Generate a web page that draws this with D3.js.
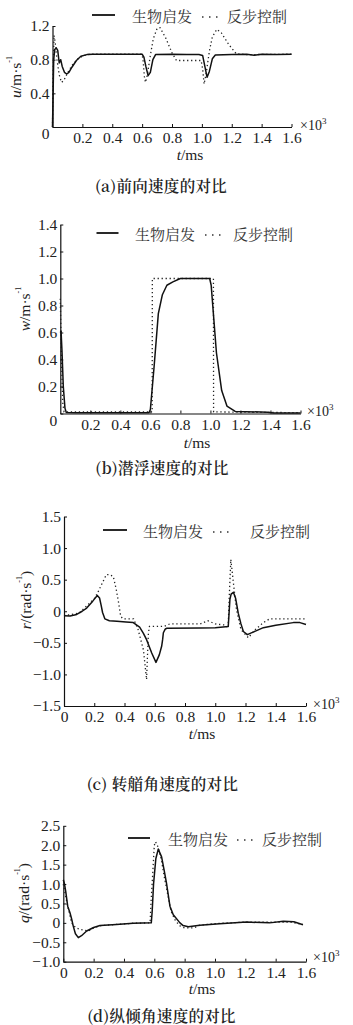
<!DOCTYPE html>
<html><head><meta charset="utf-8">
<script src="https://cdn.jsdelivr.net/npm/d3@7"></script>
<style>body{margin:0;background:#fff}svg{display:block}
.sf{font-family:"Liberation Serif","Times New Roman",serif}
.cj{font-family:"Noto Serif CJK SC","Noto Sans CJK SC",serif}
</style>
</head><body><svg id="c" width="353" height="1025"></svg>
<script>
// ---------- DATA ----------
const legendNames = ["生物启发", "反步控制"];
const captions = ["(a)前向速度的对比", "(b)潜浮速度的对比", "(c) 转艏角速度的对比", "(d)纵倾角速度的对比"];
const xTicks = [0, 0.2, 0.4, 0.6, 0.8, 1.0, 1.2, 1.4, 1.6];
const uTicks = [0, 0.4, 0.8, 1.2];
const wTicks = [0, 0.2, 0.4, 0.6, 0.8, 1.0, 1.2, 1.4];
const rTicks = [-1.5, -1.0, -0.5, 0, 0.5, 1.0, 1.5];
const qTicks = [-1.0, -0.5, 0, 0.5, 1.0, 1.5, 2.0, 2.5];

const uSolid = [[0,0],[0.003,0.3],[0.008,0.8],[0.015,0.92],[0.025,0.94],[0.035,0.91],[0.045,0.76],[0.055,0.8],[0.065,0.72],[0.08,0.65],[0.095,0.63],[0.11,0.65],[0.13,0.71],[0.16,0.79],[0.19,0.84],[0.23,0.86],[0.27,0.865],[0.6,0.865],[0.612,0.83],[0.625,0.72],[0.64,0.61],[0.655,0.65],[0.672,0.8],[0.69,0.86],[0.8,0.865],[0.9,0.862],[0.98,0.862],[1.005,0.85],[1.02,0.72],[1.035,0.59],[1.05,0.66],[1.07,0.81],[1.09,0.855],[1.2,0.86],[1.3,0.865],[1.35,0.852],[1.4,0.865],[1.5,0.86],[1.6,0.865]];
const uDotted = [[0,0],[0.004,0.6],[0.01,1.09],[0.018,1.0],[0.03,0.8],[0.045,0.62],[0.06,0.53],[0.075,0.55],[0.1,0.64],[0.13,0.73],[0.17,0.81],[0.21,0.85],[0.25,0.865],[0.6,0.865],[0.607,0.78],[0.615,0.6],[0.622,0.53],[0.635,0.62],[0.655,0.85],[0.675,1.05],[0.7,1.17],[0.72,1.18],[0.76,1.05],[0.8,0.88],[0.83,0.79],[0.9,0.79],[0.995,0.79],[1.006,0.68],[1.015,0.51],[1.03,0.65],[1.05,0.9],[1.07,1.07],[1.1,1.16],[1.13,1.12],[1.18,0.98],[1.23,0.87],[1.3,0.86],[1.6,0.865]];

const wSolid = [[0,0.6],[0.005,0.61],[0.011,0.47],[0.02,0.2],[0.031,0.04],[0.04,0.008],[0.1,0.005],[0.59,0.005],[0.6,0.03],[0.625,0.35],[0.653,0.74],[0.68,0.88],[0.71,0.95],[0.75,0.975],[0.8,1.0],[0.995,1.0],[1.005,0.95],[1.04,0.45],[1.075,0.17],[1.11,0.055],[1.165,0.015],[1.38,0.01],[1.42,0.003],[1.6,0.003]];
const wDotted = [[0,0.85],[0.008,0.4],[0.016,0.08],[0.025,0.012],[0.612,0.012],[0.613,1.0],[1.02,1.0],[1.021,0.012],[1.6,0.006]];

const rSolid = [[0,-0.07],[0.04,-0.075],[0.084,-0.05],[0.12,0.0],[0.15,0.05],[0.19,0.16],[0.22,0.25],[0.235,0.21],[0.245,0.1],[0.255,-0.02],[0.27,-0.12],[0.3,-0.15],[0.35,-0.16],[0.41,-0.17],[0.458,-0.18],[0.5,-0.25],[0.525,-0.35],[0.546,-0.45],[0.58,-0.66],[0.608,-0.81],[0.63,-0.69],[0.646,-0.55],[0.652,-0.45],[0.657,-0.34],[0.67,-0.28],[0.68,-0.27],[0.9,-0.265],[1.0,-0.26],[1.086,-0.24],[1.097,0.19],[1.105,0.27],[1.12,0.3],[1.135,0.2],[1.152,-0.03],[1.17,-0.2],[1.186,-0.32],[1.212,-0.37],[1.25,-0.33],[1.318,-0.26],[1.4,-0.22],[1.516,-0.18],[1.56,-0.18],[1.6,-0.21]];
const rDotted = [[0,-0.07],[0.1,-0.03],[0.2,0.2],[0.22,0.28],[0.25,0.43],[0.28,0.58],[0.3,0.58],[0.326,0.55],[0.345,0.35],[0.36,0.15],[0.375,-0.08],[0.39,-0.12],[0.46,-0.12],[0.49,-0.29],[0.525,-0.61],[0.546,-1.08],[0.552,-0.7],[0.558,-0.35],[0.565,-0.24],[0.66,-0.24],[0.7,-0.2],[0.9,-0.2],[0.95,-0.15],[1.0,-0.2],[1.07,-0.22],[1.085,-0.27],[1.092,0.2],[1.103,0.82],[1.12,0.45],[1.14,0.03],[1.17,-0.29],[1.219,-0.42],[1.26,-0.3],[1.318,-0.18],[1.36,-0.12],[1.6,-0.12]];

const qSolid = [[0,1.11],[0.008,1.0],[0.016,0.81],[0.029,0.43],[0.044,0.26],[0.055,0.1],[0.066,-0.09],[0.08,-0.28],[0.099,-0.38],[0.12,-0.33],[0.154,-0.21],[0.2,-0.12],[0.242,-0.07],[0.35,-0.04],[0.46,-0.01],[0.58,0],[0.586,0.3],[0.595,1.0],[0.61,1.65],[0.626,1.9],[0.648,1.7],[0.665,1.35],[0.68,1.03],[0.703,0.43],[0.725,0.21],[0.769,0.0],[0.79,-0.07],[0.824,-0.1],[0.9,-0.06],[1.03,-0.02],[1.209,0.02],[1.36,0.0],[1.45,0.04],[1.52,0.03],[1.58,-0.05]];
const qDotted = [[0,1.0],[0.01,0.8],[0.025,0.5],[0.04,0.25],[0.055,0.0],[0.08,-0.12],[0.11,-0.17],[0.165,-0.21],[0.2,-0.13],[0.25,-0.07],[0.35,-0.04],[0.46,-0.01],[0.572,0],[0.578,0.5],[0.59,1.3],[0.6,2.0],[0.608,2.09],[0.625,1.95],[0.648,1.6],[0.665,1.2],[0.69,0.7],[0.71,0.3],[0.74,0.05],[0.77,-0.08],[0.8,-0.13],[0.86,-0.13],[0.9,-0.06],[1.0,-0.02],[1.2,0.02],[1.4,0.02],[1.5,0.02],[1.58,-0.04]];

// ---------- LAYOUT ----------
const panels = [
  {solid:uSolid, dotted:uDotted, yTicks:uTicks, yDom:[0,1.2], x0:52.5, x1:291.5, yT:26, yB:127, xLab0:false,
   yLabel:["u","/m·s","-1"], yLabX:15, yLabY:77, tms:[190,154], cap:[161,185],
   leg:{l1:92,l2:115,y:15,t1:132,d1:202,d2:219,t2:227}, x10:[300,130]},
  {solid:wSolid, dotted:wDotted, yTicks:wTicks, yDom:[0,1.4], x0:60.3, x1:300.5, yT:224.5, yB:413.5, xLab0:false,
   yLabel:["w","/m·s","-1"], yLabX:24, yLabY:309, tms:[197,442], cap:[162,467],
   leg:{l1:96.5,l2:118.5,y:233,t1:135,d1:205,d2:225,t2:233}, x10:[307,416]},
  {solid:rSolid, dotted:rDotted, yTicks:rTicks, yDom:[-1.5,1.5], x0:64, x1:306, yT:516.5, yB:706, xLab0:true,
   yLabel:["r","/(rad·s","-1",")"], yLabX:25, yLabY:600, tms:[202,733], cap:[162.5,783],
   leg:{l1:103,l2:127,y:530,t1:143,d1:213,d2:233,t2:250}, x10:[313,709]},
  {solid:qSolid, dotted:qDotted, yTicks:qTicks, yDom:[-1.0,2.5], x0:63.3, x1:306, yT:825.8, yB:961.7, xLab0:true,
   yLabel:["q","/(rad·s","-1",")"], yLabX:23, yLabY:893, tms:[202,988], cap:[161.5,1015],
   leg:{l1:128,l2:150,y:838,t1:168,d1:237,d2:257,t2:262}, x10:[313,962]}
];

const svg = d3.select("#c");
const fmt = v => v === 0 ? "0" : (v < 0 ? "\u2212" + d3.format(".1f")(-v) : d3.format(".1f")(v));

panels.forEach((p, i) => {
  const x = d3.scaleLinear().domain([0, 1.6]).range([p.x0, p.x1]);
  const y = d3.scaleLinear().domain(p.yDom).range([p.yB, p.yT]);
  const g = svg.append("g");

  // axes
  const xa = d3.axisBottom(x).tickValues(p.xLab0 ? xTicks : xTicks.slice(1))
    .tickSizeInner(-3).tickSizeOuter(0).tickPadding(5).tickFormat(fmt);
  const gx = g.append("g").attr("transform", `translate(0,${p.yB})`).call(xa);
  const ya = d3.axisLeft(y).tickValues(p.yTicks).tickSizeInner(-3).tickSizeOuter(0).tickPadding(3).tickFormat(fmt);
  const gy = g.append("g").attr("transform", `translate(${p.x0},0)`).call(ya);
  [gx, gy].forEach(a => {
    a.attr("font-family", null).attr("font-size", null);
    a.select(".domain").attr("stroke", "#111").attr("stroke-width", 1.2);
    a.selectAll(".tick line").attr("stroke", "#111").attr("stroke-width", 1);
    a.selectAll("text").attr("class", "sf").style("font-size", "15.5px").attr("fill", "#222");
  });
  if (!p.xLab0) gy.selectAll(".tick").filter(d => d === 0).select("text").attr("dy", "0.75em");

  // lines
  const line = d3.line().x(d => x(d[0])).y(d => y(d[1]));
  g.append("path").datum(p.dotted).attr("d", line).attr("fill", "none")
    .attr("stroke", "#222").attr("stroke-width", 1.3).attr("stroke-dasharray", "1.3,2.7");
  g.append("path").datum(p.solid).attr("d", line).attr("fill", "none")
    .attr("stroke", "#111").attr("stroke-width", 1.5).attr("stroke-linejoin", "round");

  // legend
  const L = p.leg;
  g.append("line").attr("x1", L.l1).attr("x2", L.l2).attr("y1", L.y).attr("y2", L.y)
    .attr("stroke", "#111").attr("stroke-width", 1.8);
  g.append("line").attr("x1", L.d1).attr("x2", L.d2).attr("y1", L.y + 2).attr("y2", L.y + 2)
    .attr("stroke", "#333").attr("stroke-width", 1.5).attr("stroke-dasharray", "1.5,5.5");
  [[L.t1, 0], [L.t2, 1]].forEach(([tx, k]) => {
    g.append("text").attr("x", tx).attr("y", L.y).attr("dominant-baseline", "central")
      .attr("class", "cj").style("font-size", "15px").attr("fill", "#333").text(legendNames[k]);
  });

  // x10^3
  const xt = g.append("text").attr("x", p.x10[0]).attr("y", p.x10[1])
    .attr("class", "sf").style("font-size", "14px").attr("fill", "#222");
  xt.append("tspan").text("×10");
  xt.append("tspan").style("font-size", "9px").attr("dy", -6).text("3");

  // t/ms
  const tt = g.append("text").attr("x", p.tms[0]).attr("y", p.tms[1]).attr("text-anchor", "middle")
    .attr("dominant-baseline", "central").attr("class", "sf").style("font-size", "15.5px").attr("fill", "#222");
  tt.append("tspan").style("font-style", "italic").text("t");
  tt.append("tspan").text("/ms");

  // y label
  const yl = g.append("text").attr("transform", `translate(${p.yLabX},${p.yLabY}) rotate(-90)`)
    .attr("text-anchor", "middle").attr("dominant-baseline", "central")
    .attr("class", "sf").style("font-size", "15.5px").attr("fill", "#222");
  yl.append("tspan").style("font-style", "italic").text(p.yLabel[0]);
  yl.append("tspan").text(p.yLabel[1]);
  yl.append("tspan").style("font-size", "8px").attr("dy", -6).text(p.yLabel[2]);
  if (p.yLabel[3]) yl.append("tspan").attr("dy", 6).text(p.yLabel[3]);

  // caption
  svg.append("text").attr("x", p.cap[0]).attr("y", p.cap[1]).attr("text-anchor", "middle")
    .attr("dominant-baseline", "central").attr("class", "cj").style("font-size", "15.5px")
    .style("font-weight", 600).attr("fill", "#222").attr("letter-spacing", 0.3).text(captions[i]);
});
</script></body></html>
